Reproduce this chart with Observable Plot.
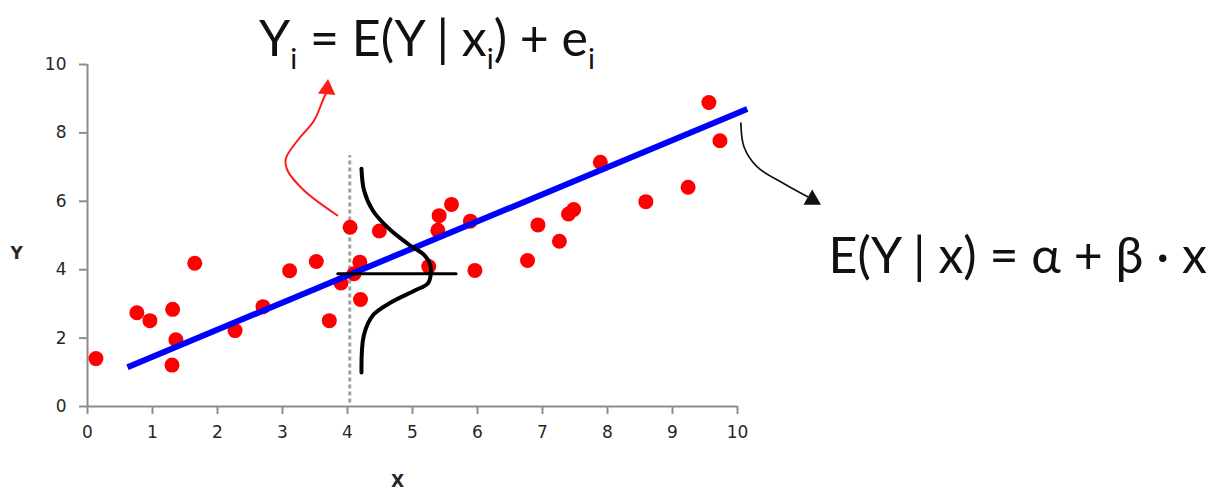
<!DOCTYPE html>
<html>
<head>
<meta charset="utf-8">
<script src="https://cdn.jsdelivr.net/npm/d3@7"></script>
<script src="https://cdn.jsdelivr.net/npm/@observablehq/plot@0.6"></script>
<style>
  html, body { margin: 0; padding: 0; background: #ffffff; }
  #chart { width: 1211px; height: 490px; }
</style>
</head>
<body>
<div id="chart"></div>
<script>
// ---- Data ----
const xValues = [0.13, 0.76, 0.96, 1.30, 1.31, 1.36, 1.65, 2.27, 2.70, 3.11, 3.52, 3.72, 3.90, 4.04, 4.10, 4.19, 4.20, 4.49, 5.25, 5.39, 5.41, 5.60, 5.89, 5.96, 6.77, 6.93, 7.26, 7.40, 7.48, 7.89, 8.59, 9.24, 9.56, 9.73];
const yValues = [1.40, 2.74, 2.51, 1.21, 2.84, 1.95, 4.19, 2.22, 2.92, 3.97, 4.24, 2.51, 3.61, 5.24, 3.88, 4.22, 3.13, 5.13, 4.09, 5.15, 5.58, 5.91, 5.42, 3.98, 4.27, 5.31, 4.83, 5.63, 5.76, 7.14, 5.99, 6.41, 8.89, 7.77];

const xTicks = [0, 1, 2, 3, 4, 5, 6, 7, 8, 9, 10];
const yTicks = [0, 2, 4, 6, 8, 10];

// fitted regression line E(Y|x) (end points)
const fitX = [0.615, 10.15];
const fitY = [1.15, 8.70];

// conditional x position and mean
const condX = [4.035];
const condYRange = [0.1, 7.34];
const meanLineX = [3.85, 5.67];
const meanY = [3.88];

// conditional distribution curve
const densityX = [4.215, 4.255, 4.389, 4.635, 4.943, 5.189, 5.274, 5.282, 5.235, 5.035, 4.666, 4.389, 4.251, 4.215];
const densityY = [6.950, 6.316, 5.731, 5.205, 4.737, 4.415, 4.152, 3.880, 3.596, 3.392, 3.041, 2.661, 2.076, 0.994];

// annotation arrows
const redArrowX = [3.846, 3.332, 3.077, 3.051, 3.231, 3.486, 3.640, 3.675];
const redArrowY = [5.585, 6.316, 6.901, 7.243, 7.778, 8.363, 9.044, 9.170];
const blackArrowX = [10.052, 10.102, 10.308, 10.717, 11.080];
const blackArrowY = [8.284, 7.582, 6.997, 6.512, 6.130];
const redHead = [{x: 3.687, y: 9.28, angle: 5}];
const blackHead = [{x: 11.15, y: 6.05, angle: 120}];

// texts
const formulas = [
  {text: "Y_i = E(Y | x_i) + e_i", x: 2.64, y: 10.25},
  {text: "E(Y | x) = α + β · x", x: 11.40, y: 3.89}
];
const axisTitles = [
  {text: "Y", x: -1.09, y: 4.47},
  {text: "X", x: 4.77, y: -2.2}
];

// ---- Build tables ----
const points = xValues.map((x, i) => ({x, y: yValues[i]}));
const fit = fitX.map((x, i) => ({x, y: fitY[i]}));
const density = densityX.map((x, i) => ({x, y: densityY[i]}));
const redArrow = redArrowX.map((x, i) => ({x, y: redArrowY[i]}));
const blackArrow = blackArrowX.map((x, i) => ({x, y: blackArrowY[i]}));
const meanLine = meanLineX.map(x => ({x, y: meanY[0]}));

const axisGray = "#8c8c8c";
const labelColor = "#262626";

const chart = Plot.plot({
  width: 1211,
  height: 490,
  marginLeft: 87,
  marginRight: 474,
  marginTop: 64,
  marginBottom: 84,
  style: {fontFamily: "'DejaVu Sans', Verdana, sans-serif", fontSize: "17px", color: labelColor, background: "#ffffff", overflow: "visible"},
  x: {domain: [0, 10]},
  y: {domain: [0, 10]},
  marks: [
    // axes
    Plot.axisX({ticks: xTicks, tickSize: 8, tickPadding: 11, stroke: axisGray, strokeWidth: 2, fill: labelColor, label: null, fontSize: 17}),
    Plot.axisY({ticks: yTicks, tickSize: 8, tickPadding: 13, stroke: axisGray, strokeWidth: 2, fill: labelColor, label: null, fontSize: 17}),
    Plot.ruleY([0], {x1: 0, x2: 10, stroke: axisGray, strokeWidth: 2}),
    Plot.ruleX([0], {y1: 0, y2: 10, stroke: axisGray, strokeWidth: 2}),
    Plot.text(axisTitles, {x: "x", y: "y", text: "text", fontWeight: "bold", fontSize: 17, fill: labelColor}),
    // dashed conditional line
    Plot.ruleX(condX, {y1: condYRange[0], y2: condYRange[1], stroke: "#a0a0a0", strokeWidth: 3, strokeDasharray: "4,3"}),
    // data points
    Plot.dot(points, {x: "x", y: "y", r: 7.5, fill: "#ff0000", stroke: null}),
    // regression line
    Plot.line(fit, {x: "x", y: "y", stroke: "#0000ff", strokeWidth: 6, strokeLinecap: "butt"}),
    // conditional distribution
    Plot.line(density, {x: "x", y: "y", stroke: "#000000", strokeWidth: 4, curve: "catmull-rom"}),
    Plot.line(meanLine, {x: "x", y: "y", stroke: "#000000", strokeWidth: 3}),
    // arrows
    Plot.line(redArrow, {x: "x", y: "y", stroke: "#ff1a1a", strokeWidth: 2, curve: "catmull-rom"}),
    Plot.dot(redHead, {x: "x", y: "y", symbol: "triangle", r: 6.5, fill: "#ff1a1a", stroke: null, rotate: "angle"}),
    Plot.line(blackArrow, {x: "x", y: "y", stroke: "#111111", strokeWidth: 1.7, curve: "catmull-rom"}),
    Plot.dot(blackHead, {x: "x", y: "y", symbol: "triangle", r: 6.5, fill: "#111111", stroke: null, rotate: "angle"}),
    // formulas
    Plot.text(formulas, {x: "x", y: "y", text: "text", textAnchor: "start", lineAnchor: "bottom", fontSize: 50, fontFamily: "Lato, 'Open Sans', sans-serif", fill: "#111111"})
  ]
});

// turn "_i" into real subscripts
d3.select(chart).selectAll("text, tspan").each(function () {
  if (this.children.length > 0) return;
  const t = this.textContent;
  if (!t.includes("_i")) return;
  const parts = t.split("_i");
  const el = d3.select(this);
  el.text(null);
  parts.forEach((p, k) => {
    if (k > 0) {
      el.append("tspan").attr("font-size", "58%").attr("dy", 13).text("i");
      el.append("tspan").attr("dy", -13).text(p);
    } else {
      el.append("tspan").text(p);
    }
  });
});

document.getElementById("chart").appendChild(chart);
</script>
</body>
</html>
